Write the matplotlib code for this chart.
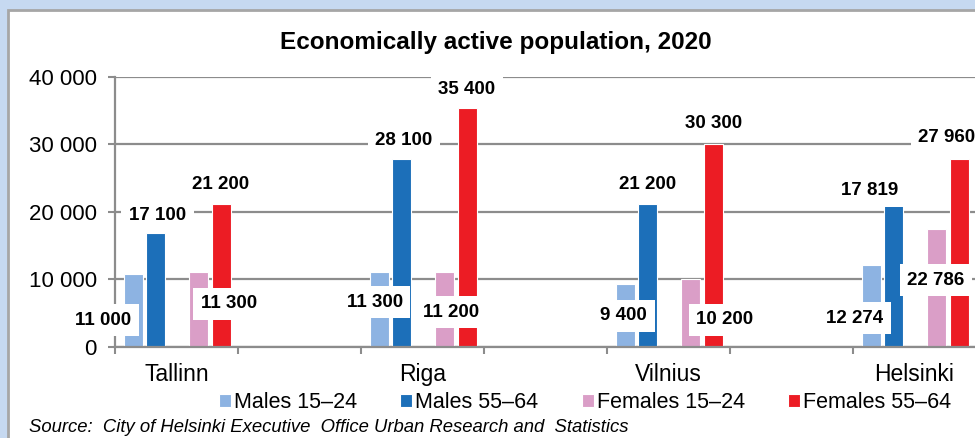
import matplotlib
matplotlib.use("Agg")
from matplotlib import pyplot as plt
from matplotlib.patches import Rectangle
from matplotlib.ticker import FuncFormatter, FixedLocator

plt.rcParams['font.family'] = ['Liberation Sans', 'DejaVu Sans']

cities = ["Tallinn", "Riga", "Vilnius", "Helsinki"]
series = ["Males 15\u201324", "Males 55\u201364", "Females 15\u201324", "Females 55\u201364"]

# bar heights as drawn
males_15_24 = [10700, 11100, 9300, 12150]
males_55_64 = [16800, 27800, 21100, 21100]
females_15_24 = [11100, 11100, 10000, 17500]
females_55_64 = [21100, 35300, 30000, 27850]

# data label texts as printed on the chart
males_15_24_lbl = ["11 000", "11 300", "9 400", "12 274"]
males_55_64_lbl = ["17 100", "28 100", "21 200", "17 819"]
females_15_24_lbl = ["11 300", "11 200", "10 200", "22 786"]
females_55_64_lbl = ["21 200", "35 400", "30 300", "27 960"]

colors = ["#8DB3E2", "#1C6FB9", "#DA9EC7", "#EC1C24"]
offsets = [0.15, 0.33, 0.68, 0.865]
bar_w = 0.155

# label placements (manually moved labels in the original)
lbl_pos = [
    [(-0.098, 3950), (2.112, 6580), (4.136, 4590), (6.015, 4210)],
    [(0.346, 19500), (2.350, 30520), (4.333, 24100), (6.137, 23110)],
    [(0.927, 6330), (2.734, 5100), (4.958, 3960), (6.675, 9880)],
    [(0.858, 24100), (2.862, 38030), (4.867, 33100), (6.764, 30920)],
]

values = [males_15_24, males_55_64, females_15_24, females_55_64]
labels = [males_15_24_lbl, males_55_64_lbl, females_15_24_lbl, females_55_64_lbl]

fig = plt.figure(figsize=(9.75, 4.38), dpi=100)
fig.patch.set_facecolor("#C6D9F1")
fig.patches.append(Rectangle((8 / 975, -0.05), 1.1, (438 - 10) / 438 + 0.05,
                             transform=fig.transFigure, facecolor="white",
                             edgecolor="#A6A6A6", linewidth=2, zorder=-1))

ax = fig.add_axes([115 / 975, (438 - 346.7) / 438, 1 - 115 / 975, 270 / 438])
ax.set_facecolor("none")
ax.set_zorder(2)

starts = [2 * i for i in range(len(cities))]
for s in range(4):
    xs = [st + offsets[s] for st in starts]
    ax.bar(xs, values[s], width=bar_w, color=colors[s], edgecolor="white",
           linewidth=0.8, label=series[s], zorder=2)
    for (lx, ly), txt in zip(lbl_pos[s], labels[s]):
        ax.text(lx, ly, txt, ha="center", va="center", fontsize=13.5,
                fontweight="bold", zorder=6, clip_on=False,
                bbox=dict(boxstyle="square,pad=0.4", facecolor="white",
                          edgecolor="none"))

ax.set_xlim(0, (975 - 115) / 123)
ax.set_ylim(0, 40000)
ax.set_yticks([0, 10000, 20000, 30000, 40000])
ax.yaxis.set_major_formatter(FuncFormatter(lambda v, p: f"{int(v):,}".replace(",", " ")))
ax.yaxis.grid(True, color="#8C8C8C", linewidth=1.6)
ax.set_axisbelow(True)

ax.set_xticks([st + 0.5 for st in starts])
ax.set_xticklabels(cities)
ax.xaxis.set_minor_locator(FixedLocator(range(0, 8)))
ax.tick_params(axis="x", which="major", length=0, labelsize=16.5, pad=12)
ax.tick_params(axis="x", which="minor", length=5, width=1.5, color="#8C8C8C")
ax.tick_params(axis="y", length=5, width=1.5, color="#8C8C8C", labelsize=16, pad=8)

for side in ["top", "right"]:
    ax.spines[side].set_visible(False)
for side in ["left", "bottom"]:
    ax.spines[side].set_color("#8C8C8C")
    ax.spines[side].set_linewidth(1.6)

fig.text(496 / 975, (438 - 42) / 438, "Economically active population, 2020",
         ha="center", va="center", fontsize=17.5, fontweight="bold")

fig.legend(loc="center", bbox_to_anchor=(585 / 975, (438 - 403) / 438), ncol=4,
           frameon=False, fontsize=15.5, handlelength=0.56, handleheight=0.56,
           handletextpad=0.15, columnspacing=2.0, borderpad=0)

fig.text(29 / 975, (438 - 427) / 438,
         "Source:  City of Helsinki Executive  Office Urban Research and  Statistics",
         ha="left", va="center", fontsize=13.3, style="italic")

plt.savefig("out.png", dpi=100, facecolor=fig.get_facecolor())
